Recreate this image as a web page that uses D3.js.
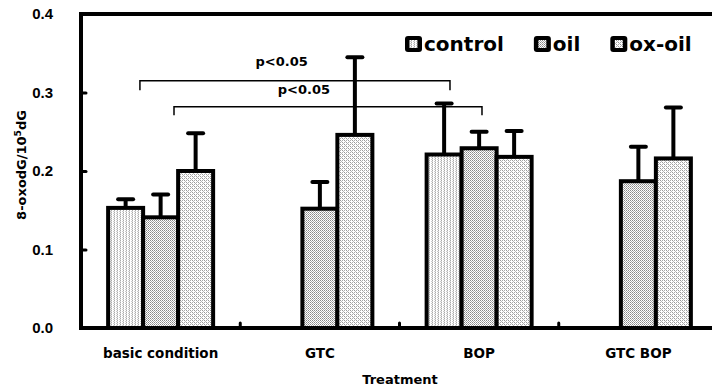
<!DOCTYPE html>
<meta charset="utf-8">
<style>
  body { margin: 0; background: #fff; }
  text { font-family: "DejaVu Sans", sans-serif; font-weight: bold; fill: #000; }
</style>
<body>
<script src="https://cdn.jsdelivr.net/npm/d3@7"></script>
<script>

    var width = 712,
        height = 391;

    // data
    var groups = ["basic condition", "GTC", "BOP", "GTC BOP"];
    var series = ["control", "oil", "ox-oil"];
    var controlVals = [0.153, null, 0.221, null];
    var oilVals     = [0.141, 0.152, 0.229, 0.187];
    var oxoilVals   = [0.200, 0.246, 0.218, 0.216];
    var controlErr  = [0.011, null, 0.065, null];
    var oilErr      = [0.029, 0.034, 0.021, 0.044];
    var oxoilErr    = [0.048, 0.099, 0.033, 0.065];
    var yTicks = [0, 0.1, 0.2, 0.3, 0.4];

    // significance brackets: [group, fraction in band] for each end
    var brackets = [
        {from: ["basic condition", 0.37], to: ["BOP", 0.317], y: 0.315, drop: 0.012, label: "p<0.05", lab: ["GTC", 0.26], ly: 0.334},
        {from: ["basic condition", 0.584], to: ["BOP", 0.518], y: 0.282, drop: 0.011, label: "p<0.05", lab: ["GTC", 0.40], ly: 0.298}
    ];

    var values = [controlVals, oilVals, oxoilVals];
    var errs = [controlErr, oilErr, oxoilErr];
    var bars = [];
    series.forEach(function(s, i) {
        groups.forEach(function(g, j) {
            if (values[i][j] != null) bars.push({group: g, series: s, value: values[i][j], err: errs[i][j]});
        });
    });

    var mLeft = 81, mRight = 718, mTop = 14, mBottom = 328;

    var svg = d3.select("body").append("svg")
            .attr("width", width)
            .attr("height", height);

    var x = d3.scaleBand().domain(groups).range([mLeft, mRight]);
    var bw = 35;
    var xs = d3.scaleBand().domain(series)
            .range([x.bandwidth() / 2 - bw * 1.5, x.bandwidth() / 2 + bw * 1.5]);
    var y = d3.scaleLinear().domain([0, 0.4]).range([mBottom, mTop]);

    // fill patterns
    var defs = svg.append("defs");
    function makePattern(id, w, h, cells) {
        var p = defs.append("pattern").attr("id", id)
                .attr("patternUnits", "userSpaceOnUse")
                .attr("width", w).attr("height", h);
        p.append("rect").attr("width", w).attr("height", h).attr("fill", "#fff");
        cells.forEach(function(c) {
            p.append("rect").attr("x", c[0]).attr("y", c[1])
                    .attr("width", 1).attr("height", 1).attr("fill", c[2])
                    .attr("shape-rendering", "crispEdges");
        });
    }
    makePattern("pat-control", 3, 2, [[0, 0, "#aaa"], [0, 1, "#ddd"], [2, 1, "#ccc"]]);
    makePattern("pat-oil", 2, 2, [[0, 0, "#888"], [1, 1, "#aaa"]]);
    makePattern("pat-ox-oil", 4, 4, [[0, 0, "#999"], [2, 0, "#aaa"], [1, 1, "#bbb"], [0, 2, "#aaa"], [2, 2, "#999"], [3, 3, "#bbb"]]);

    // frame
    svg.append("rect")
            .attr("x", mLeft).attr("y", mTop)
            .attr("width", mRight - mLeft).attr("height", mBottom - mTop)
            .attr("fill", "none").attr("stroke", "#000").attr("stroke-width", 4);

    // bars
    svg.append("g").selectAll("rect")
            .data(bars).enter().append("rect")
            .attr("x", function(d) { return x(d.group) + xs(d.series); })
            .attr("y", function(d) { return y(d.value); })
            .attr("width", xs.bandwidth())
            .attr("height", function(d) { return y(0) - y(d.value); })
            .attr("fill", function(d) { return "url(#pat-" + d.series + ")"; })
            .attr("stroke", "#000").attr("stroke-width", 4);

    // error bars (upper only)
    var eb = svg.append("g").attr("stroke", "#000").attr("stroke-width", 4);
    bars.forEach(function(d) {
        var cx = x(d.group) + xs(d.series) + xs.bandwidth() / 2;
        eb.append("line").attr("x1", cx).attr("x2", cx)
                .attr("y1", y(d.value)).attr("y2", y(d.value + d.err));
        eb.append("line").attr("x1", cx - 7.5).attr("x2", cx + 7.5)
                .attr("y1", y(d.value + d.err)).attr("y2", y(d.value + d.err))
                .attr("stroke-linecap", "round");
    });

    // y axis
    var yAxis = d3.axisLeft(y).tickValues(yTicks).tickFormat(d3.format(".1f"))
            .tickSize(-5).tickPadding(28);
    var ya = svg.append("g").attr("transform", "translate(" + mLeft + ",0)").call(yAxis);
    ya.select(".domain").remove();
    ya.selectAll(".tick line").attr("stroke", "#000").attr("stroke-width", 3)
            .attr("stroke-linecap", "round")
            .attr("display", function(d) { return d == 0 || d == 0.4 ? "none" : null; });
    ya.selectAll(".tick text")
            .style("font-family", "'Liberation Sans Narrow', 'Liberation Sans', sans-serif")
            .style("font-size", "15px").style("font-weight", "bold");

    // x boundary ticks
    svg.append("g").selectAll("line")
            .data(groups.slice(0, -1)).enter().append("line")
            .attr("x1", function(d) { return x(d) + x.bandwidth(); })
            .attr("x2", function(d) { return x(d) + x.bandwidth(); })
            .attr("y1", mBottom).attr("y2", mBottom - 5)
            .attr("stroke", "#000").attr("stroke-width", 3).attr("stroke-linecap", "round");

    // x labels
    svg.append("g").selectAll("text")
            .data(groups).enter().append("text")
            .attr("x", function(d) { return x(d) + x.bandwidth() / 2; })
            .attr("y", 358)
            .attr("text-anchor", "middle")
            .style("font-size", "13.5px")
            .text(function(d) { return d; });

    svg.append("text")
            .attr("x", 400).attr("y", 384)
            .attr("text-anchor", "middle")
            .style("font-size", "13px")
            .text("Treatment");

    var yt = svg.append("text")
            .attr("transform", "translate(26,165) rotate(-90)")
            .attr("text-anchor", "middle")
            .style("font-size", "13px");
    yt.append("tspan").text("8-oxodG/10");
    yt.append("tspan").attr("dy", -5).style("font-size", "9px").text("5");
    yt.append("tspan").attr("dy", 5).text("dG");

    // brackets
    var bg = svg.append("g");
    brackets.forEach(function(b) {
        var x1 = x(b.from[0]) + b.from[1] * x.bandwidth(),
            x2 = x(b.to[0]) + b.to[1] * x.bandwidth();
        bg.append("path")
                .attr("d", "M" + x1 + "," + y(b.y - b.drop) + "V" + y(b.y) + "H" + x2 + "V" + y(b.y - b.drop))
                .attr("fill", "none").attr("stroke", "#000").attr("stroke-width", 1.5);
        bg.append("text")
                .attr("x", x(b.lab[0]) + b.lab[1] * x.bandwidth())
                .attr("y", y(b.ly))
                .attr("text-anchor", "middle")
                .style("font-size", "13px")
                .text(b.label);
    });

    // legend
    var lg = svg.append("g");
    var lx = 405;
    series.forEach(function(s) {
        lg.append("rect").attr("x", lx).attr("y", 36).attr("width", 17).attr("height", 16)
                .attr("rx", 3).attr("fill", "#000");
        lg.append("rect").attr("x", lx + 4.5).attr("y", 40).attr("width", 8).attr("height", 8)
                .attr("fill", "url(#pat-" + s + ")");
        var t = lg.append("text").attr("x", lx + 19).attr("y", 51)
                .style("font-size", "20px").text(s);
        lx += 19 + t.node().getComputedTextLength() + 30;
    });

</script>
